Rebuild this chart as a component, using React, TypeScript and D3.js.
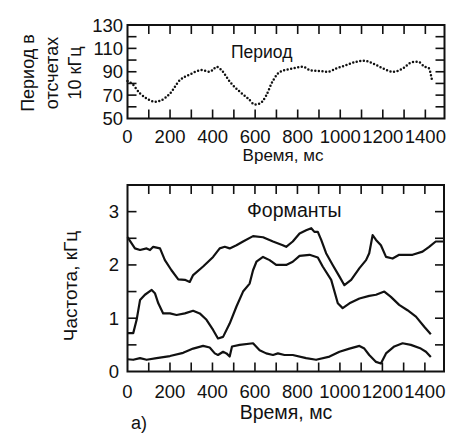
import React from "react";
import * as d3 from "d3";

const periodT = [0, 20, 59, 90, 129, 160, 200, 246, 293, 348, 387, 400, 419, 442, 481, 528, 567, 599, 622, 653, 677, 708, 739, 763, 825, 857, 904, 943, 982, 1029, 1076, 1115, 1154, 1201, 1248, 1295, 1334, 1365, 1397, 1417, 1428, 1433];
const periodV = [82, 80, 71.4, 67.1, 64.3, 65.7, 71.4, 82.8, 87.7, 91.4, 90, 91.4, 94.3, 91.4, 81.4, 72.9, 67.1, 62, 62.8, 70, 80, 88.6, 91.5, 92.3, 94.3, 91.4, 90.6, 90, 92.9, 95.7, 98.6, 99.4, 97.1, 92.9, 90, 92.9, 98, 98.6, 94.3, 92.9, 85.7, 81.4];

const f3T = [0, 35, 59, 90, 106, 121, 153, 176, 207, 239, 270, 293, 309, 356, 403, 434, 458, 481, 513, 544, 591, 638, 685, 731, 747, 778, 810, 841, 865, 880, 896, 912, 935, 966, 998, 1021, 1053, 1092, 1123, 1138, 1154, 1170, 1193, 1217, 1248, 1279, 1342, 1389, 1420, 1451, 1490];
const f3V = [2.52, 2.31, 2.28, 2.31, 2.28, 2.34, 2.31, 2.09, 1.9, 1.73, 1.72, 1.68, 1.81, 1.97, 2.15, 2.31, 2.34, 2.31, 2.37, 2.44, 2.54, 2.52, 2.44, 2.37, 2.34, 2.44, 2.59, 2.65, 2.69, 2.62, 2.62, 2.47, 2.22, 2.0, 1.78, 1.62, 1.72, 1.94, 2.09, 2.22, 2.56, 2.47, 2.37, 2.15, 2.12, 2.19, 2.19, 2.25, 2.34, 2.44, 2.44];

const f2T = [0, 27, 43, 59, 82, 114, 129, 145, 168, 200, 231, 270, 309, 340, 372, 403, 426, 450, 481, 513, 544, 575, 591, 607, 638, 669, 700, 747, 778, 810, 857, 896, 919, 959, 990, 1013, 1045, 1092, 1138, 1170, 1209, 1240, 1279, 1318, 1358, 1397, 1428];
const f2V = [0.72, 0.72, 0.97, 1.34, 1.44, 1.53, 1.47, 1.28, 1.09, 1.09, 1.06, 1.09, 1.14, 1.09, 0.97, 0.78, 0.62, 0.65, 0.9, 1.22, 1.5, 1.65, 1.9, 2.06, 2.15, 2.09, 2.0, 2.0, 2.06, 2.17, 2.19, 2.14, 1.97, 1.72, 1.28, 1.19, 1.28, 1.37, 1.42, 1.44, 1.5, 1.4, 1.25, 1.15, 1.03, 0.84, 0.7];

const f1T = [0, 27, 59, 90, 137, 200, 262, 309, 356, 387, 411, 426, 450, 466, 481, 492, 528, 591, 622, 653, 685, 708, 739, 778, 841, 888, 951, 998, 1045, 1092, 1115, 1138, 1170, 1193, 1217, 1256, 1295, 1334, 1381, 1405, 1428];
const f1V = [0.23, 0.22, 0.25, 0.22, 0.25, 0.29, 0.35, 0.43, 0.48, 0.45, 0.34, 0.31, 0.37, 0.34, 0.28, 0.47, 0.5, 0.53, 0.4, 0.34, 0.31, 0.34, 0.31, 0.31, 0.25, 0.22, 0.28, 0.37, 0.43, 0.48, 0.43, 0.31, 0.18, 0.15, 0.34, 0.47, 0.53, 0.5, 0.43, 0.37, 0.27];

const xTickLabels = [0, 200, 400, 600, 800, 1000, 1200, 1400];
const xMinorTicks = [100, 200, 300, 400, 500, 600, 700, 800, 900, 1000, 1100, 1200, 1300, 1400];
const periodTickLabels = [50, 70, 90, 110, 130];
const periodMinorTicks = [60, 70, 80, 90, 100, 110, 120];
const freqTickLabels = [0, 1, 2, 3];
const freqMinorTicks = [0.5, 1, 1.5, 2, 2.5, 3];

const FONT = "'Liberation Sans', Arial, Helvetica, sans-serif";

export default function App() {
  const xTop = d3.scaleLinear().domain([0, 1490]).range([127.5, 444.5]);
  const yTop = d3.scaleLinear().domain([50, 130]).range([118.5, 25]);
  const xBot = d3.scaleLinear().domain([0, 1490]).range([127.5, 444]);
  const yBot = d3.scaleLinear().domain([0, 3.5]).range([371.5, 185]);

  const periodData = periodT.map((t, i) => [t, periodV[i]] as [number, number]);
  const periodLine = d3
    .line<[number, number]>()
    .x((d) => xTop(d[0]))
    .y((d) => yTop(d[1]))
    .curve(d3.curveMonotoneX)(periodData) as string;

  const fLine = (ts: number[], vs: number[]) =>
    d3
      .line<[number, number]>()
      .x((d) => xBot(d[0]))
      .y((d) => yBot(d[1]))
      .curve(d3.curveLinear)(ts.map((t, i) => [t, vs[i]] as [number, number])) as string;

  const tl = 9;

  const frame = (x: any, y: any, yMinor: number[]) => {
    const [x0, x1] = x.range();
    const [y0, y1] = y.range();
    return (
      <g stroke="#111" fill="none">
        <rect x={x0} y={y1} width={x1 - x0} height={y0 - y1} strokeWidth={2} />
        {xMinorTicks.map((t) => (
          <g key={"x" + t} strokeWidth={1.6}>
            <line x1={x(t)} x2={x(t)} y1={y1} y2={y1 + tl} />
            <line x1={x(t)} x2={x(t)} y1={y0} y2={y0 - tl} />
          </g>
        ))}
        {yMinor.map((v) => (
          <g key={"y" + v} strokeWidth={1.6}>
            <line x1={x0} x2={x0 + tl} y1={y(v)} y2={y(v)} />
            <line x1={x1} x2={x1 - tl} y1={y(v)} y2={y(v)} />
          </g>
        ))}
      </g>
    );
  };

  return (
    <svg
      width={460}
      height={433}
      style={{ position: "absolute", left: 0, top: 0, background: "#fff" }}
      fontFamily={FONT}
    >
      <rect width={460} height={433} fill="#fff" />
      {/* Top chart */}
      {frame(xTop, yTop, periodMinorTicks)}
      <path
        d={periodLine}
        fill="none"
        stroke="#111"
        strokeWidth={2.5}
        strokeLinecap="round"
        strokeDasharray="0 3.6"
      />
      <text x={231} y={58} fontSize={17.5} fill="#111">Период</text>
      {periodTickLabels.map((v) => (
        <text key={v} x={123} y={yTop(v) + 6.5} fontSize={18.5} textAnchor="end" fill="#111">
          {v}
        </text>
      ))}
      {xTickLabels.map((t) => (
        <text key={t} x={xTop(t)} y={143} fontSize={18.5} textAnchor="middle" fill="#111">
          {t}
        </text>
      ))}
      <text x={283} y={161} fontSize={17} textAnchor="middle" fill="#111">Время, мс</text>
      <g transform="translate(0,73) rotate(-90)" fontSize={18} fill="#111" textAnchor="middle">
        <text x={0} y={34}>Период в</text>
        <text x={0} y={58}>отсчетах</text>
        <text x={0} y={81}>10 кГц</text>
      </g>

      {/* Bottom chart */}
      {frame(xBot, yBot, freqMinorTicks)}
      {[
        [f1T, f1V],
        [f2T, f2V],
        [f3T, f3V],
      ].map(([ts, vs], i) => (
        <path
          key={i}
          d={fLine(ts as number[], vs as number[])}
          fill="none"
          stroke="#111"
          strokeWidth={2.2}
          strokeLinejoin="round"
        />
      ))}
      <text x={247} y={217} fontSize={19.5} fill="#111">Форманты</text>
      {freqTickLabels.map((v) => (
        <text key={v} x={119} y={yBot(v) + 6.5} fontSize={18.5} textAnchor="end" fill="#111">
          {v}
        </text>
      ))}
      {xTickLabels.map((t) => (
        <text key={t} x={xBot(t)} y={398} fontSize={18.5} textAnchor="middle" fill="#111">
          {t}
        </text>
      ))}
      <text x={286} y={419} fontSize={19.5} textAnchor="middle" fill="#111">Время, мс</text>
      <text x={139} y={429} fontSize={18} textAnchor="middle" fill="#111">а)</text>
      <text
        transform="translate(77,286) rotate(-90)"
        fontSize={19}
        textAnchor="middle"
        fill="#111"
      >
        Частота, кГц
      </text>
    </svg>
  );
}
